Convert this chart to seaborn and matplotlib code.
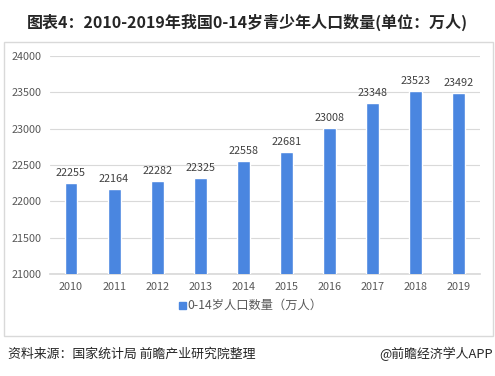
import matplotlib
matplotlib.use("Agg")
import matplotlib.pyplot as plt
import seaborn as sns
import pandas as pd
from matplotlib.patches import Rectangle

years = ["2010", "2011", "2012", "2013", "2014", "2015", "2016", "2017", "2018", "2019"]
values = [22255, 22164, 22282, 22325, 22558, 22681, 23008, 23348, 23523, 23492]
series_name = "0-14岁人口数量（万人）"
title = "图表4：2010-2019年我国0-14岁青少年人口数量(单位：万人)"
source = "资料来源：国家统计局 前瞻产业研究院整理"
brand = "@前瞻经济学人APP"
yticks = [21000, 21500, 22000, 22500, 23000, 23500, 24000]

sns.set_theme(style="white")
plt.rcParams['font.family'] = ['Noto Sans CJK SC', 'DejaVu Sans']

df = pd.DataFrame({"year": years, "value": values})

fig = plt.figure(figsize=(4.95, 3.76), dpi=100)
ax = fig.add_axes([0.1, 0.271, 0.87, 0.58])
sns.barplot(data=df, x="year", y="value", color="#4A86E0", width=0.3,
            saturation=1, ax=ax, zorder=3)
ax.set_ylim(21000, 24000)
ax.set_yticks(yticks)
ax.set_yticklabels([str(t) for t in yticks])
ax.grid(axis="y", color="#D9D9D9", linewidth=0.8, zorder=0)
for s in ["top", "right", "left"]:
    ax.spines[s].set_visible(False)
ax.spines["bottom"].set_color("#D9D9D9")
ax.tick_params(axis="both", length=0, labelsize=7.8, colors="#595959", pad=6)
ax.set_xlabel("")
ax.set_ylabel("")
for p, v in zip(ax.patches, values):
    ax.text(p.get_x() + p.get_width() / 2, v + 70, str(v), ha="center", va="bottom",
            fontsize=7.8, color="#404040")

# legend
fig.patches.append(Rectangle((0.362, 0.178), 0.014, 0.019, transform=fig.transFigure,
                             color="#4A86E0", figure=fig))
fig.text(0.378, 0.187, series_name, fontsize=8.8, color="#595959", va="center", ha="left")

# border
fig.patches.append(Rectangle((4 / 495, 1 - 336 / 376), 489 / 495, 294 / 376,
                             transform=fig.transFigure, fill=False,
                             edgecolor="#D9D9D9", linewidth=1, figure=fig))

fig.text(0.5, 1 - 22 / 376, title, fontsize=11.5, fontweight="bold", color="#262626",
         ha="center", va="center")
fig.text(8 / 495, 1 - 354 / 376, source, fontsize=9.3, color="#262626", va="center", ha="left")
fig.text(493 / 495, 1 - 354 / 376, brand, fontsize=9.3, color="#262626", va="center", ha="right")

fig.savefig("out.png", dpi=100)
